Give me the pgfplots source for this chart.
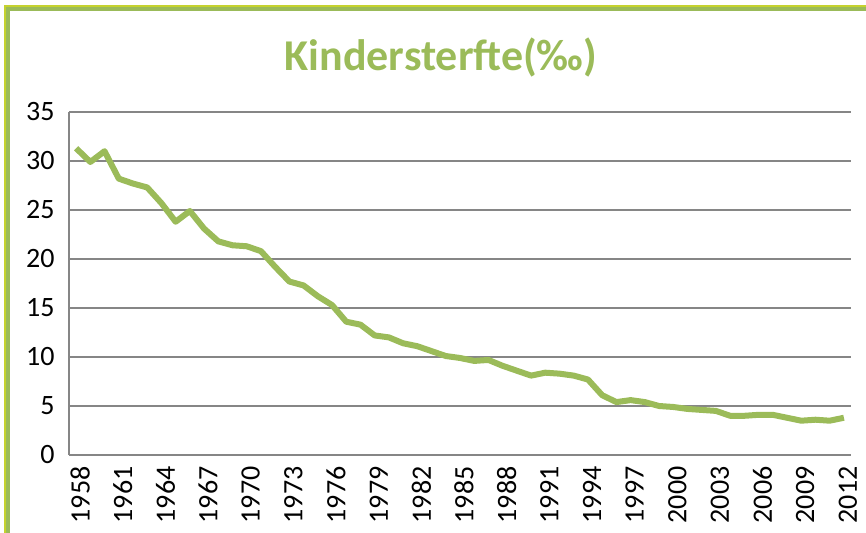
\documentclass[border=0pt]{standalone}
\usepackage{pgfplots}
\pgfplotsset{compat=1.18}
\usepackage{fontspec}
\setmainfont{Carlito}
\definecolor{lgreen}{HTML}{9BBB59}
\definecolor{ygreen}{HTML}{C5D22E}
\definecolor{gridgray}{HTML}{868686}
\begin{document}
\begin{tikzpicture}
\useasboundingbox (0pt,0pt) rectangle (866pt,532pt);
\begin{scope}
\clip (0pt,0pt) rectangle (866pt,532pt);
\draw[ygreen, line width=2pt] (5pt,-20pt) -- (5pt,526pt) -- (900pt,526pt);
\draw[lgreen, line width=4pt] (8pt,-20pt) -- (8pt,523pt) -- (900pt,523pt);
\end{scope}
\node[lgreen, font=\fontsize{44}{48}\selectfont\bfseries] at (441pt,474pt) {Kindersterfte(‰)};
\begin{axis}[
  at={(69pt,77pt)}, anchor=south west,
  scale only axis, width=782pt, height=343pt,
  xmin=1957.5, xmax=2012.5, ymin=0, ymax=35,
  ytick={0,5,...,35}, xtick={1958,1961,...,2012},
  axis x line*=bottom, axis y line*=left,
  axis line style={draw=gridgray, line width=1.3pt, -},
  ymajorgrids, grid style={gridgray, line width=1.3pt},
  major tick length=0pt,
  /pgf/number format/assume math mode=true,
  xticklabel={\pgfmathprintnumber[1000 sep={}]{\tick}},
  tick label style={font=\fontsize{28}{30}\selectfont, text=black},
  yticklabel style={anchor=east, xshift=-11pt},
  xticklabel style={xshift=4pt, yshift=-8pt, rotate=90, anchor=east},
]
\addplot[lgreen, line width=6pt, line join=round] coordinates {
(1958,31.3) (1959,29.9) (1960,31.0) (1961,28.2) (1962,27.7) (1963,27.3)
(1964,25.7) (1965,23.8) (1966,24.9) (1967,23.1) (1968,21.8) (1969,21.4)
(1970,21.3) (1971,20.8) (1972,19.2) (1973,17.7) (1974,17.3) (1975,16.2)
(1976,15.3) (1977,13.6) (1978,13.3) (1979,12.2) (1980,12.0) (1981,11.4)
(1982,11.1) (1983,10.6) (1984,10.1) (1985,9.9) (1986,9.6) (1987,9.7)
(1988,9.1) (1989,8.6) (1990,8.1) (1991,8.4) (1992,8.3) (1993,8.1)
(1994,7.7) (1995,6.1) (1996,5.4) (1997,5.6) (1998,5.4) (1999,5.0)
(2000,4.9) (2001,4.7) (2002,4.6) (2003,4.5) (2004,4.0) (2005,4.0)
(2006,4.1) (2007,4.1) (2008,3.8) (2009,3.5) (2010,3.6) (2011,3.5)
(2012,3.8)
};
\end{axis}
\end{tikzpicture}
\end{document}
